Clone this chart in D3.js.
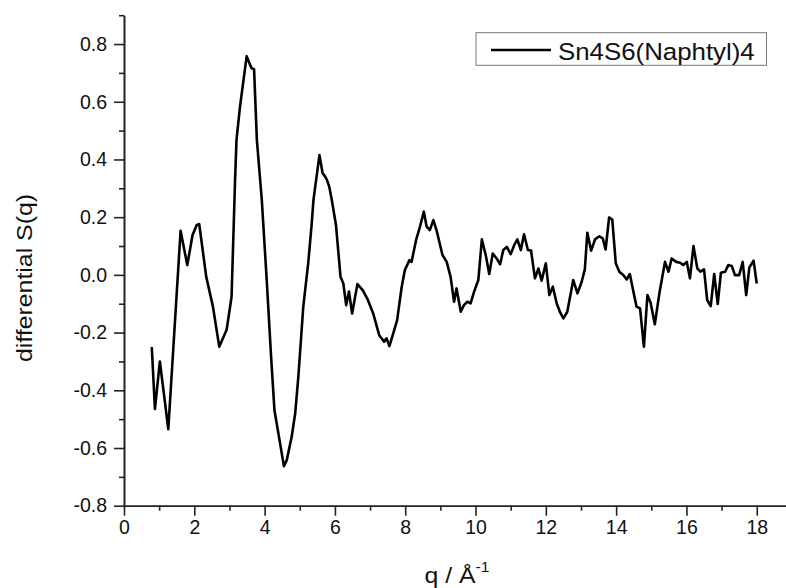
<!DOCTYPE html>
<html>
<head>
<meta charset="utf-8">
<script src="https://cdn.jsdelivr.net/npm/d3@7/dist/d3.min.js"></script>
<style>
  html, body { margin: 0; padding: 0; background: #fff; }
  svg { display: block; }
  text { font-family: Arial, "Liberation Sans", sans-serif; fill: #111; }
</style>
</head>
<body>
<svg id="chart" width="786" height="588"></svg>
<script>
const seriesName = "Sn4S6(Naphtyl)4";
const qValues = [
  0.79, 0.88, 1.02, 1.26, 1.61, 1.80, 1.95, 2.07, 2.14, 2.34, 2.53, 2.71, 2.92, 3.06,
  3.16, 3.20, 3.30, 3.49, 3.57, 3.63, 3.70, 3.78, 3.92, 4.06, 4.19, 4.28, 4.44, 4.55,
  4.63, 4.77, 4.87, 4.96, 5.10, 5.24, 5.34, 5.39, 5.56, 5.65, 5.70, 5.77, 5.84, 5.91,
  6.03, 6.16, 6.24, 6.32, 6.40, 6.49, 6.64, 6.79, 6.92, 7.09, 7.26, 7.40, 7.47, 7.55,
  7.66, 7.77, 7.90, 7.99, 8.12, 8.18, 8.31, 8.42, 8.53, 8.61, 8.70, 8.80, 8.89, 9.06,
  9.18, 9.29, 9.39, 9.46, 9.58, 9.67, 9.77, 9.86, 9.96, 10.08, 10.18, 10.30, 10.39,
  10.49, 10.60, 10.70, 10.79, 10.89, 11.00, 11.10, 11.19, 11.29, 11.38, 11.49, 11.58,
  11.69, 11.79, 11.88, 12.00, 12.10, 12.20, 12.31, 12.40, 12.50, 12.61, 12.78, 12.90,
  13.02, 13.11, 13.18, 13.29, 13.40, 13.52, 13.62, 13.70, 13.80, 13.89, 13.99, 14.09,
  14.21, 14.30, 14.39, 14.49, 14.58, 14.68, 14.79, 14.89, 14.98, 15.10, 15.23, 15.39,
  15.49, 15.58, 15.71, 15.82, 15.91, 16.01, 16.10, 16.20, 16.31, 16.40, 16.50, 16.59,
  16.69, 16.79, 16.89, 16.98, 17.10, 17.19, 17.29, 17.38, 17.50, 17.60, 17.70, 17.79,
  17.91, 18.00
];
const sValues = [
  -0.250, -0.465, -0.300, -0.535, 0.153, 0.034, 0.138, 0.173, 0.176, -0.007, -0.110, -0.249, -0.190, -0.076,
  0.330, 0.467, 0.583, 0.758, 0.733, 0.716, 0.713, 0.467, 0.260, -0.018, -0.295, -0.469, -0.584, -0.663,
  -0.642, -0.561, -0.480, -0.353, -0.110, 0.040, 0.178, 0.260, 0.415, 0.352, 0.345, 0.330, 0.305, 0.260,
  0.173, -0.007, -0.030, -0.105, -0.058, -0.134, -0.032, -0.053, -0.082, -0.134, -0.209, -0.232, -0.220, -0.247,
  -0.203, -0.157, -0.041, 0.017, 0.051, 0.045, 0.121, 0.167, 0.219, 0.167, 0.155, 0.190, 0.155, 0.069,
  0.045, -0.007, -0.093, -0.047, -0.128, -0.105, -0.093, -0.099, -0.058, -0.018, 0.123, 0.063, 0.003,
  0.074, 0.057, 0.037, 0.086, 0.097, 0.072, 0.103, 0.123, 0.086, 0.141, 0.086, 0.084,
  -0.012, 0.022, -0.020, 0.040, -0.070, -0.041, -0.099, -0.128, -0.151, -0.128, -0.018, -0.064,
  -0.024, 0.019, 0.146, 0.084, 0.123, 0.134, 0.126, 0.088, 0.199, 0.192, 0.040, 0.011,
  -0.001, -0.016, 0.003, -0.058, -0.110, -0.116, -0.249, -0.070, -0.097, -0.171, -0.064, 0.045,
  0.011, 0.057, 0.045, 0.042, 0.034, 0.045, -0.012, 0.100, 0.022, 0.011, 0.019, -0.087,
  -0.108, 0.003, -0.101, 0.007, 0.011, 0.034, 0.031, -0.001, -0.001, 0.045, -0.070, 0.026,
  0.049, -0.030
];
const xMajorTicks = [0, 2, 4, 6, 8, 10, 12, 14, 16, 18];
const xMinorTicks = [1, 3, 5, 7, 9, 11, 13, 15, 17, 19];
const yMajorTicks = [-0.8, -0.6, -0.4, -0.2, 0.0, 0.2, 0.4, 0.6, 0.8];
const yMinorTicks = [-0.7, -0.5, -0.3, -0.1, 0.1, 0.3, 0.5, 0.7, 0.9];
const xTitle = "q / Å";
const xTitleSup = "-1";
const yTitle = "differential S(q)";

const svg = d3.select("#chart");
const x = d3.scaleLinear().domain([0, 19]).range([124, 791.9]);
const y = d3.scaleLinear().domain([-0.8, 0.9]).range([505.7, 15.2]);
const axisColor = "#222";
const yFmt = d => d.toFixed(1).replace("−", "-");

// X axis
const gx = svg.append("g").attr("transform", `translate(0,${y(-0.8)})`);
gx.call(d3.axisBottom(x).tickValues(xMajorTicks).tickSize(10).tickSizeOuter(0).tickFormat(d => String(d)));
gx.append("g").call(d3.axisBottom(x).tickValues(xMinorTicks).tickSize(5).tickSizeOuter(0).tickFormat(""));
gx.selectAll("path.domain").attr("stroke", axisColor).attr("stroke-width", 1.6);
gx.selectAll(".tick line").attr("stroke", axisColor).attr("stroke-width", 1.6);
gx.selectAll(".tick text").attr("font-size", "19.5px").attr("fill", "#111").attr("y", 14)
  .attr("font-family", "Arial, 'Liberation Sans', sans-serif");

// Y axis
const gy = svg.append("g").attr("transform", `translate(${x(0)},0)`);
gy.call(d3.axisLeft(y).tickValues(yMajorTicks).tickSize(10).tickSizeOuter(0).tickFormat(yFmt));
gy.append("g").call(d3.axisLeft(y).tickValues(yMinorTicks).tickSize(5).tickSizeOuter(0).tickFormat(""));
gy.selectAll("path.domain").attr("stroke", axisColor).attr("stroke-width", 1.6);
gy.selectAll(".tick line").attr("stroke", axisColor).attr("stroke-width", 1.6);
gy.selectAll(".tick text").attr("font-size", "19.5px").attr("fill", "#111").attr("x", -17)
  .attr("font-family", "Arial, 'Liberation Sans', sans-serif");

// Line
const data = qValues.map((q, i) => ({ q, s: sValues[i] }));
svg.append("path")
  .datum(data)
  .attr("fill", "none")
  .attr("stroke", "#000")
  .attr("stroke-width", 2.6)
  .attr("stroke-linejoin", "round")
  .attr("d", d3.line().x(d => x(d.q)).y(d => y(d.s)));

// Axis titles
const xt = svg.append("text")
  .attr("transform", `translate(457,582.5) scale(1.13,1)`)
  .attr("text-anchor", "middle")
  .attr("font-size", "22px");
xt.append("tspan").text(xTitle);
xt.append("tspan").attr("dy", -11).attr("font-size", "14px").text(xTitleSup);

svg.append("text")
  .attr("transform", `translate(32,278) rotate(-90) scale(1.13,1)`)
  .attr("text-anchor", "middle")
  .attr("font-size", "22px")
  .text(yTitle);

// Legend
const lg = svg.append("g");
lg.append("rect").attr("x", 476).attr("y", 32.7).attr("width", 290.5).attr("height", 32.6)
  .attr("fill", "#fff").attr("stroke", "#777").attr("stroke-width", 1);
lg.append("line").attr("x1", 491).attr("x2", 551).attr("y1", 50).attr("y2", 50)
  .attr("stroke", "#000").attr("stroke-width", 2.6);
lg.append("text").attr("transform", "translate(558,59.5) scale(1.1,1)")
  .attr("font-size", "23.5px").text(seriesName);
</script>
</body>
</html>
